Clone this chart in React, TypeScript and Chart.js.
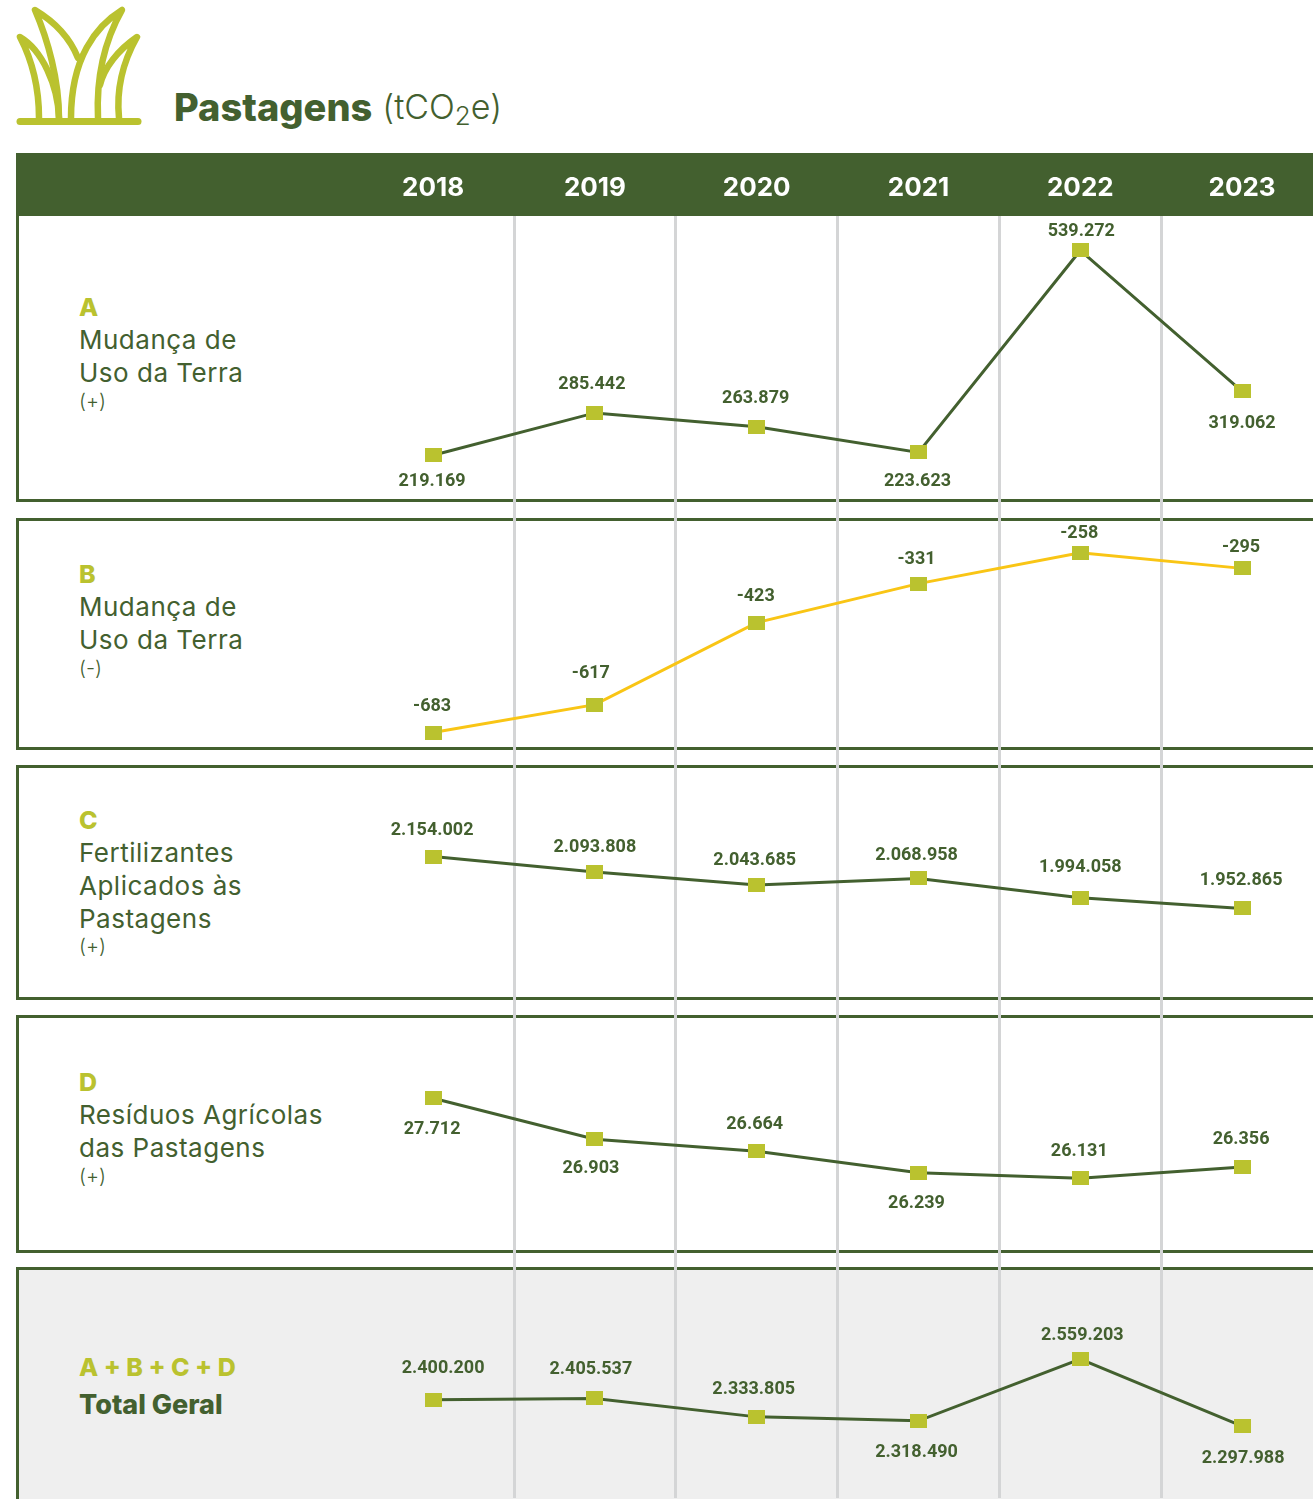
import React, { useEffect, useRef } from "react";
import Chart from "chart.js/auto";

const years = ["2018", "2019", "2020", "2021", "2022", "2023"];
const mudancaPos = [219169, 285442, 263879, 223623, 539272, 319062];
const mudancaNeg = [-683, -617, -423, -331, -258, -295];
const fertilizantes = [2154002, 2093808, 2043685, 2068958, 1994058, 1952865];
const residuos = [27712, 26903, 26664, 26239, 26131, 26356];
const totalGeral = [2400200, 2405537, 2333805, 2318490, 2559203, 2297988];

const DARK = "#43602f";
const LIME = "#bac22f";
const YELLOW = "#f9c515";
const GRID = "#d4d5d6";
const UI = "Inter, sans-serif";

// Each series has its own hidden y axis that spans the whole plot height.
const axisRanges = [
  { id: "yA", min: -1410256, max: 593148 },
  { id: "yB", min: -2491.5, max: 537.6 },
  { id: "yC", min: -329254, max: 4633390 },
  { id: "yD", min: 19808, max: 45160 },
  { id: "yT", min: 2017242, max: 7019659 },
];

// Label offsets from the marker, [dx, dy] for each year.
const offsetsA = [[-1, 26], [-3, -28], [-1, -28], [-1, 29], [1, -19], [0, 32]];
const offsetsB = [[-1, -26], [-4, -31], [-1, -26], [-2, -24], [-1, -19], [-1, -21]];
const offsetsC = [[-1, -26], [0, -25], [-2, -24], [-2, -23], [0, -30], [-1, -28]];
const offsetsD = [[-1, 31], [-4, 29], [-2, -27], [-2, 31], [-1, -27], [-1, -27]];
const offsetsT = [[10, -31], [-4, -29], [-3, -27], [-2, 32], [2, -24], [1, 32]];

const seriesList = [
  { data: mudancaPos, axis: "yA", color: DARK, offsets: offsetsA },
  { data: mudancaNeg, axis: "yB", color: YELLOW, offsets: offsetsB },
  { data: fertilizantes, axis: "yC", color: DARK, offsets: offsetsC },
  { data: residuos, axis: "yD", color: DARK, offsets: offsetsD },
  { data: totalGeral, axis: "yT", color: DARK, offsets: offsetsT },
];

const panels = [
  { top: 216, height: 286, bg: "#fff", noTop: true },
  { top: 518, height: 232, bg: "#fff" },
  { top: 765, height: 235, bg: "#fff" },
  { top: 1015, height: 238, bg: "#fff" },
  { top: 1267, height: 260, bg: "#efefef" },
];

const texts = [
  { t: "A", y: 307, k: "letter" },
  { t: "Mudança de", y: 340, k: "name" },
  { t: "Uso da Terra", y: 373, k: "name" },
  { t: "(+)", y: 401, k: "sign" },
  { t: "B", y: 574, k: "letter" },
  { t: "Mudança de", y: 607, k: "name" },
  { t: "Uso da Terra", y: 640, k: "name" },
  { t: "(-)", y: 668, k: "sign" },
  { t: "C", y: 820, k: "letter" },
  { t: "Fertilizantes", y: 853, k: "name" },
  { t: "Aplicados às", y: 886, k: "name" },
  { t: "Pastagens", y: 919, k: "name" },
  { t: "(+)", y: 946, k: "sign" },
  { t: "D", y: 1082, k: "letter" },
  { t: "Resíduos Agrícolas", y: 1115, k: "name" },
  { t: "das Pastagens", y: 1148, k: "name" },
  { t: "(+)", y: 1176, k: "sign" },
  { t: "A + B + C + D", y: 1367, k: "letter" },
  { t: "Total Geral", y: 1405, k: "total" },
];

const textStyles: Record<string, React.CSSProperties> = {
  letter: { fontSize: 25, fontWeight: 800, color: LIME },
  name: { fontSize: 26, fontWeight: 400, color: DARK, letterSpacing: 0.5 },
  sign: { fontSize: 20, fontWeight: 300, color: DARK },
  total: { fontSize: 27, fontWeight: 800, color: DARK },
};

const fmt = (v: number) =>
  (v < 0 ? "-" : "") + String(Math.abs(v)).replace(/\B(?=(\d{3})+$)/g, ".");

function makeMarker() {
  const c = document.createElement("canvas");
  c.width = 17;
  c.height = 14;
  const g = c.getContext("2d")!;
  g.fillStyle = LIME;
  g.fillRect(0, 0, 17, 14);
  return c;
}

const labelPlugin = {
  id: "valueLabels",
  afterDatasetsDraw(chart: any) {
    const g = chart.ctx;
    g.save();
    g.font = "700 18px Roboto";
    g.fillStyle = DARK;
    g.textAlign = "center";
    g.textBaseline = "middle";
    seriesList.forEach((s, i) => {
      chart.getDatasetMeta(i).data.forEach((pt: any, j: number) => {
        g.fillText(fmt(s.data[j]), pt.x + s.offsets[j][0], pt.y + s.offsets[j][1]);
      });
    });
    g.restore();
  },
};

export default function App() {
  const ref = useRef<HTMLCanvasElement>(null);
  useEffect(() => {
    document.body.style.margin = "0";
    const marker = makeMarker();
    const scales: any = {
      x: {
        type: "category",
        position: "top",
        offset: true,
        afterFit: (s: any) => {
          s.height = 63;
        },
        border: { display: false },
        grid: {
          offset: true,
          drawTicks: false,
          lineWidth: 3,
          color: (c: any) => (c.index === 0 ? "rgba(0,0,0,0)" : GRID),
        },
        ticks: {
          color: "#fff",
          padding: 12,
          maxRotation: 0,
          font: { family: "Inter", size: 26, weight: "700" },
        },
      },
    };
    axisRanges.forEach((a) => {
      scales[a.id] = { display: false, min: a.min, max: a.max };
    });
    const chart = new Chart(ref.current!, {
      type: "line",
      data: {
        labels: years,
        datasets: seriesList.map((s) => ({
          data: s.data,
          yAxisID: s.axis,
          borderColor: s.color,
          borderWidth: 3,
          tension: 0,
          clip: false,
          pointStyle: marker,
          pointRadius: 8,
          pointHoverRadius: 8,
        })),
      },
      options: {
        animation: false,
        responsive: false,
        devicePixelRatio: 1,
        events: [],
        layout: { padding: { left: 352.2, top: 153, right: 0, bottom: 0 } },
        plugins: { legend: { display: false }, tooltip: { enabled: false } },
        scales,
      } as any,
      plugins: [labelPlugin as any],
    });
    return () => chart.destroy();
  }, []);

  return (
    <div style={{ position: "absolute", left: 0, top: 0, width: 1313, height: 1499, overflow: "hidden", background: "#fff", fontFamily: UI }}>
      <svg width="160" height="130" style={{ position: "absolute", left: 0, top: 0 }} fill="none" stroke={LIME} strokeWidth={6.5} strokeLinecap="round" strokeLinejoin="round">
        <path d="M39,118 C39,90 33,62 20,37 C42,50 58,85 59,118" />
        <path d="M59,118 C59,80 48,40 35,10 C55,22 70,38 78,58" />
        <path d="M71,118 C71,58 96,26 122,10 C105,40 96,75 98,118" />
        <path d="M119,118 C116,88 124,60 137,37 C118,50 104,68 100,85" />
        <path d="M20,121.5 L138,121.5" strokeWidth={7} />
      </svg>
      <div style={{ position: "absolute", left: 174, top: 84, lineHeight: "46px", whiteSpace: "nowrap", color: DARK }}>
        <span style={{ fontWeight: 800, fontSize: 38 }}>Pastagens</span>
        <span style={{ fontWeight: 300, fontSize: 34, marginLeft: 10, position: "relative", top: -2 }}>(tCO<sub style={{ fontSize: 26, lineHeight: 0, verticalAlign: "-6px" }}>2</sub>e)</span>
      </div>
      <div style={{ position: "absolute", left: 16, top: 153, width: 1320, height: 63, background: DARK }} />
      {panels.map((p, i) => (
        <div
          key={i}
          style={{
            position: "absolute",
            boxSizing: "border-box",
            left: 16,
            top: p.top,
            width: 1340,
            height: p.height,
            background: p.bg,
            border: `3px solid ${DARK}`,
            borderTop: p.noTop ? "none" : `3px solid ${DARK}`,
          }}
        />
      ))}
      {texts.map((l, i) => (
        <div
          key={i}
          style={{
            position: "absolute",
            left: 79,
            top: l.y - 20,
            height: 40,
            lineHeight: "40px",
            whiteSpace: "nowrap",
            ...textStyles[l.k],
          }}
        >
          {l.t}
        </div>
      ))}
      <canvas ref={ref} width={1334} height={1509} style={{ position: "absolute", left: 0, top: 0 }} />
    </div>
  );
}
